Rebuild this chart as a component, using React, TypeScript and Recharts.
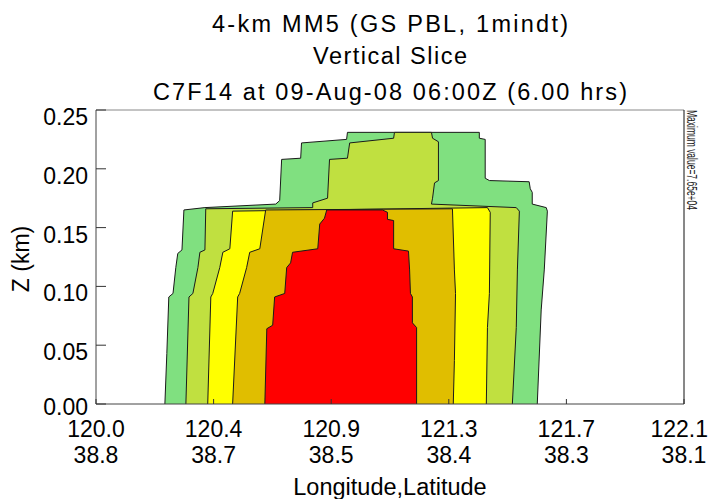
import { ComposedChart, Area, XAxis, YAxis } from 'recharts';

const W = 714;
const H = 499;
const FONT = '"Liberation Sans", Arial, sans-serif';

const titleLines = [
  '4-km MM5 (GS PBL, 1mindt)',
  'Vertical Slice',
  'C7F14 at 09-Aug-08 06:00Z (6.00 hrs)',
];

const lonTicks = [120.0, 120.42, 120.84, 121.26, 121.68, 122.1];
const lonLabels = ['120.0', '120.4', '120.9', '121.3', '121.7', '122.1'];
const latLabels = ['38.8', '38.7', '38.5', '38.4', '38.3', '38.1'];
const zTicks = [0, 0.05, 0.1, 0.15, 0.2, 0.25];

// contour outlines as [lon, z]: left edge going up, across the top, right edge going down
const level1: [number, number][] = [
  [120.246, 0], [120.253, 0.043], [120.26, 0.091], [120.275, 0.094], [120.285, 0.116],
  [120.292, 0.128], [120.307, 0.131], [120.314, 0.165], [120.389, 0.167], [120.642, 0.17],
  [120.656, 0.173], [120.663, 0.208], [120.731, 0.209], [120.734, 0.222], [120.895, 0.225],
  [120.898, 0.231], [121.369, 0.231], [121.369, 0.226], [121.39, 0.225], [121.39, 0.192],
  [121.405, 0.19], [121.547, 0.189], [121.551, 0.183], [121.558, 0.18], [121.558, 0.17],
  [121.608, 0.167], [121.612, 0.164], [121.601, 0.114], [121.59, 0.08], [121.576, 0],
];
const level2: [number, number][] = [
  [120.321, 0], [120.332, 0.091], [120.346, 0.094], [120.364, 0.116], [120.371, 0.129],
  [120.389, 0.131], [120.392, 0.166], [120.774, 0.167], [120.774, 0.171], [120.827, 0.175],
  [120.834, 0.208], [120.898, 0.209], [120.906, 0.222], [121.063, 0.226], [121.066, 0.231],
  [121.198, 0.231], [121.202, 0.226], [121.223, 0.223], [121.223, 0.19], [121.209, 0.188],
  [121.202, 0.175], [121.198, 0.17], [121.501, 0.167], [121.512, 0.164], [121.505, 0.114],
  [121.501, 0.065], [121.487, 0],
];
const level3: [number, number][] = [
  [120.399, 0], [120.41, 0.091], [120.417, 0.094], [120.442, 0.116], [120.453, 0.129],
  [120.478, 0.132], [120.488, 0.164], [121.398, 0.167], [121.408, 0.163], [121.405, 0.094],
  [121.398, 0.065], [121.394, 0],
];
const level4: [number, number][] = [
  [120.488, 0], [120.506, 0.091], [120.513, 0.094], [120.538, 0.116], [120.549, 0.129],
  [120.585, 0.132], [120.606, 0.165], [121.273, 0.166], [121.28, 0.114], [121.284, 0.094],
  [121.28, 0.037], [121.276, 0],
];
const level5: [number, number][] = [
  [120.603, 0], [120.61, 0.064], [120.631, 0.067], [120.638, 0.091], [120.674, 0.094],
  [120.681, 0.116], [120.695, 0.12], [120.702, 0.129], [120.792, 0.132], [120.799, 0.153],
  [120.816, 0.158], [120.824, 0.165], [121.023, 0.165], [121.041, 0.163], [121.041, 0.157],
  [121.063, 0.156], [121.063, 0.132], [121.116, 0.13], [121.12, 0.114], [121.123, 0.094],
  [121.13, 0.091], [121.13, 0.069], [121.145, 0.065], [121.145, 0],
];

const levels = [level1, level2, level3, level4, level5];
const colors = ['#80e080', '#c0e040', '#ffff00', '#e0be00', '#ff0000'];

const toRows = (pts: [number, number][]) => pts.map(([lon, z]) => ({ lon, z }));

function BottomTick(props: any) {
  const { x, y, payload, index } = props;
  const last = index === lonTicks.length - 1;
  return (
    <g>
      <line x1={x} y1={y} x2={x} y2={y - 5} stroke="#333" />
      <text x={last ? x + 24 : x} y={y + 33} textAnchor={last ? 'end' : 'middle'} fontSize={23} fontFamily={FONT} fill="#000" stroke="none">
        {lonLabels[index] ?? payload.value}
      </text>
      <text x={x} y={y + 59} textAnchor="middle" fontSize={23} fontFamily={FONT} fill="#000" stroke="none">
        {latLabels[index]}
      </text>
    </g>
  );
}

function LeftTick(props: any) {
  const { x, y, payload } = props;
  return (
    <g>
      <line x1={x + 8} y1={y} x2={x + 18} y2={y} stroke="#333" />
      <text x={x} y={y + (payload.value === 0 ? 11 : 15)} textAnchor="end" fontSize={23} fontFamily={FONT} fill="#000" stroke="none">
        {Number(payload.value).toFixed(2)}
      </text>
    </g>
  );
}

function RightTick(props: any) {
  const { x, y } = props;
  return <line x1={x} y1={y} x2={x - 10} y2={y} stroke="#111" />;
}

export default function App() {
  return (
    <div style={{ position: 'absolute', left: 0, top: 0, width: W, height: H, background: '#fff' }}>
      <ComposedChart width={W} height={H} margin={{ top: 109, right: 29, bottom: 94, left: 95 }}>
        {levels.map((pts, i) => (
          <Area
            key={i}
            data={toRows(pts)}
            dataKey="z"
            type="linear"
            fill={colors[i]}
            fillOpacity={1}
            stroke="#1a1a1a"
            strokeWidth={1}
            dot={false}
            activeDot={false}
            isAnimationActive={false}
          />
        ))}
        <XAxis
          type="number" dataKey="lon" domain={[120, 122.1]} ticks={lonTicks} interval={0}
          height={1} tickSize={0} tickMargin={0} tickLine={false} allowDataOverflow
          axisLine={{ stroke: '#444' }} tick={(p: any) => <BottomTick {...p} />}
        />
        <XAxis
          xAxisId="top" orientation="top" type="number" dataKey="lon" domain={[120, 122.1]}
          height={1} tick={false} tickLine={false} axisLine={{ stroke: '#888' }}
        />
        <YAxis
          type="number" domain={[0, 0.25]} ticks={zTicks} interval={0} width={1}
          tickSize={0} tickMargin={8} tickLine={false} allowDataOverflow
          axisLine={{ stroke: '#444' }} tick={(p: any) => <LeftTick {...p} />}
        />
        <YAxis
          yAxisId="right" orientation="right" type="number" domain={[0, 0.25]} ticks={zTicks}
          interval={0} width={1} tickSize={0} tickMargin={0} tickLine={false}
          axisLine={{ stroke: '#111' }} tick={(p: any) => <RightTick {...p} />}
        />
      </ComposedChart>
      <svg width={W} height={H} style={{ position: 'absolute', left: 0, top: 0, pointerEvents: 'none' }}>
        <g fontFamily={FONT} fill="#000" textAnchor="middle">
          <text x={390} y={32} fontSize={23.5} textLength={356}>{titleLines[0]}</text>
          <text x={390} y={63.5} fontSize={23.5} textLength={154}>{titleLines[1]}</text>
          <text x={390} y={99.5} fontSize={23.5} textLength={474}>{titleLines[2]}</text>
          <text x={390} y={495} fontSize={23.5}>Longitude,Latitude</text>
          <text transform="translate(28.5,259) rotate(-90)" fontSize={23}>Z (km)</text>
        </g>
        <text
          transform="translate(687,110) rotate(90)" fontFamily={FONT} fontSize={14}
          textLength={100} lengthAdjust="spacingAndGlyphs" fill="#222"
        >
          Maximum value=7.65e+04
        </text>
      </svg>
    </div>
  );
}
